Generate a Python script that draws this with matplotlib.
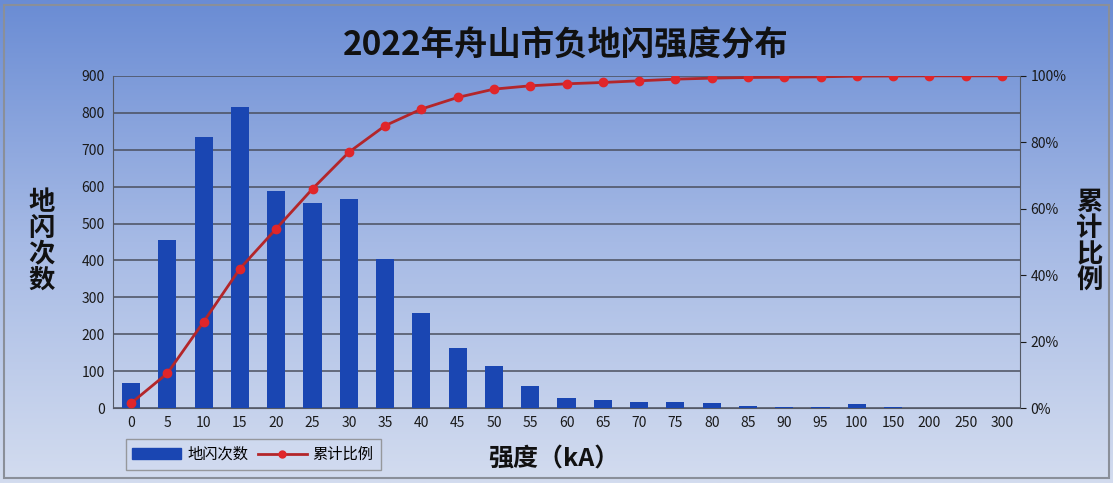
import numpy as np
import matplotlib
matplotlib.use('Agg')
import matplotlib.pyplot as plt
from matplotlib.ticker import PercentFormatter
from matplotlib.colors import LinearSegmentedColormap

plt.rcParams['font.family'] = ['Noto Sans CJK SC', 'DejaVu Sans']

# data
categories = ['0', '5', '10', '15', '20', '25', '30', '35', '40', '45', '50', '55', '60',
              '65', '70', '75', '80', '85', '90', '95', '100', '150', '200', '250', '300']
counts = [67, 455, 735, 816, 588, 555, 566, 404, 257, 163, 114, 60, 27,
          22, 16, 16, 14, 7, 4, 3, 12, 2, 1, 0, 0]
cum_pct = [1.5, 10.5, 26, 42, 54, 66, 77, 85, 90, 93.5, 96, 97, 97.6,
           98, 98.5, 99, 99.3, 99.5, 99.6, 99.7, 99.9, 99.95, 100, 100, 100]

fig = plt.figure(figsize=(11.13, 4.83), dpi=100)

# background gradient for whole figure
bg = fig.add_axes([0, 0, 1, 1], zorder=-10)
grad = np.linspace(0, 1, 256).reshape(-1, 1)
cm_bg = LinearSegmentedColormap.from_list('bg', ['#6a8cd4', '#a6bae5', '#d3dcef'])
bg.imshow(grad, aspect='auto', cmap=cm_bg, extent=[0, 1, 0, 1], origin='upper')
bg.set_xlim(0, 1)
bg.set_ylim(0, 1)
bg.axis('off')
bg.add_patch(plt.Rectangle((0.004, 0.01), 0.992, 0.98, fill=False, ec='#8a8f99', lw=1.5))

ax = fig.add_axes([0.1015, 0.155, 0.815, 0.688])
ax.patch.set_alpha(0)
x = np.arange(len(categories))
ax.bar(x, counts, width=0.5, color='#1a46b2', zorder=3)
ax.set_ylim(0, 900)
ax.set_yticks(range(0, 901, 100))
ax.set_xlim(-0.5, len(categories) - 0.5)
ax.set_xticks(x)
ax.set_xticklabels(categories)
ax.grid(axis='y', color='#4a4f5e', lw=1.1, zorder=0)
ax.tick_params(axis='both', labelsize=10, length=0, colors='#1a1a1a', pad=6)
for s in ['top', 'right']:
    ax.spines[s].set_visible(False)
ax.spines['left'].set_color('#555a66')
ax.spines['bottom'].set_color('#555a66')

ax2 = ax.twinx()
ax2.plot(x, cum_pct, color='#b3262a', lw=2, marker='o', markersize=6,
         markerfacecolor='#e0262a', markeredgecolor='#e0262a', zorder=5)
ax2.set_ylim(0, 100)
ax2.set_yticks(range(0, 101, 20))
ax2.yaxis.set_major_formatter(PercentFormatter(decimals=0))
ax2.tick_params(axis='y', labelsize=10, length=4, colors='#1a1a1a')
for s in ['top', 'left', 'bottom']:
    ax2.spines[s].set_visible(False)
ax2.spines['right'].set_color('#555a66')

fig.text(0.508, 0.905, '2022年舟山市负地闪强度分布', ha='center', va='center',
         fontsize=24, fontweight='bold', color='#111111')
fig.text(0.037, 0.5, '地\n闪\n次\n数', ha='center', va='center', fontsize=19,
         fontweight='bold', linespacing=0.95, color='#111111')
fig.text(0.979, 0.5, '累\n计\n比\n例', ha='center', va='center', fontsize=19,
         fontweight='bold', linespacing=0.95, color='#111111')
fig.text(0.498, 0.048, '强度（kA）', ha='center', va='center', fontsize=18,
         fontweight='bold', color='#111111')

h1 = plt.Rectangle((0, 0), 1, 1, color='#1a46b2')
h2, = ax2.plot([], [], color='#b3262a', lw=2, marker='o', markersize=5,
               markerfacecolor='#e0262a', markeredgecolor='#e0262a')
fig.legend([h1, h2], ['地闪次数', '累计比例'], loc='center left',
           bbox_to_anchor=(0.106, 0.059), ncol=2, fontsize=11, frameon=True,
           fancybox=False, edgecolor='#888888', facecolor='#d0daf0',
           handlelength=3.2, columnspacing=0.6, handletextpad=0.4, borderpad=0.45)

fig.savefig('out.png', dpi=100)
